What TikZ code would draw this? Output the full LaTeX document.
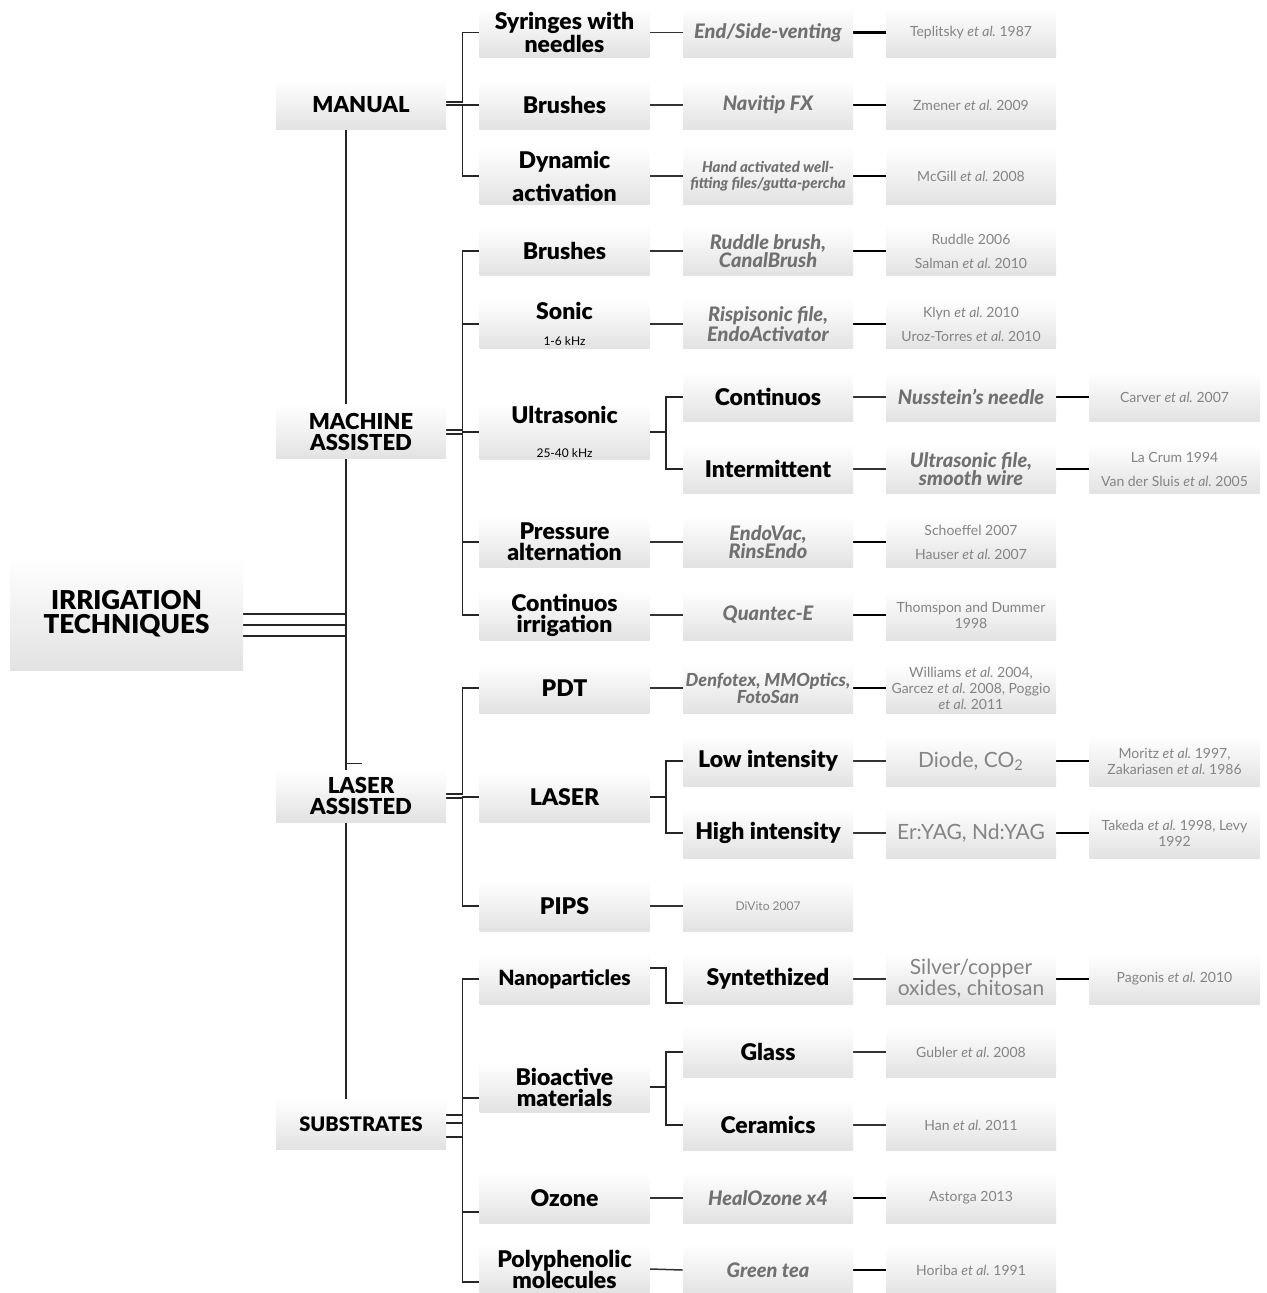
\documentclass[tikz,border=0pt]{standalone}
\usepackage{fontspec}
\setmainfont{Lato}[BoldFont={Lato Black},BoldItalicFont={Lato Black Italic}]
\usepackage{xcolor}
\definecolor{prodgray}{RGB}{112,112,112}
\definecolor{refgray}{RGB}{132,132,132}
\definecolor{boxgray}{RGB}{226,226,226}
\usepackage{tikz}
\usetikzlibrary{backgrounds}
\newcommand{\etal}{\textit{et al.}}
\tikzset{
	box/.style     = {rectangle,top color=white,middle color=white,
		bottom color=boxgray,minimum width=85pt,minimum height=25pt,
		inner sep=1pt,align=center},
	rootbox/.style = {box,minimum width=116.5pt,minimum height=56pt,
		font=\fontsize{13}{12}\selectfont\bfseries},
	catbox/.style  = {box,font=\fontsize{11}{10.5}\selectfont\bfseries},
	techbox/.style = {box,font=\fontsize{11.5}{10.5}\selectfont\bfseries},
	prodbox/.style = {box,text=prodgray,
		font=\fontsize{10}{9}\selectfont\bfseries\itshape},
	brandbox/.style= {box,text=refgray,font=\fontsize{10.5}{10.5}\selectfont},
	refbox/.style  = {box,text=refgray,font=\fontsize{7}{8}\selectfont},
	conn/.style    = {draw=black!85,line width=0.65pt},
	link/.style    = {draw=black!80,line width=0.75pt},
	reflink/.style = {draw=black,line width=1.1pt},
}
\newcommand{\khz}[1]{{\fontsize{6}{6}\selectfont\mdseries #1}}
\begin{document}
\begin{tikzpicture}[x=0.5pt,y=-0.5pt]
	\useasboundingbox (0,0) rectangle (1266,1293);
	%% Racine
	\node (irr) [rootbox] at (126.5,614) {IRRIGATION\\TECHNIQUES};
	
	%% Categories
	\node (man)  [catbox] at (361,105) {MANUAL};
	\node (mach) [catbox,minimum height=27pt] at (361,432) {MACHINE\\ASSISTED};
	\node (las)  [catbox,minimum height=26pt] at (361,796) {LASER\\ASSISTED};
	\node (sub)  [catbox,font=\fontsize{10}{9}\selectfont\bfseries] at (361,1124) {SUBSTRATES};
	
	%% Manual
	\node (syr) [techbox] at (564.5,32.5) {Syringes with\\needles};
	\node (mbr) [techbox] at (564.5,105) {Brushes};
	\node (dyn) [techbox,minimum height=29pt] at (564.5,176) {Dynamic\\[5pt]activation};
	\node (p1) [prodbox] at (768,32.5) {End/Side-venting};
	\node (p2) [prodbox] at (768,105) {Navitip FX};
	\node (p3) [prodbox,minimum height=29pt,font=\fontsize{7.5}{8}\selectfont\bfseries\itshape]
	at (768,176) {Hand activated well-\\fitting files/gutta-percha};
	\node (r1) [refbox] at (971,32.5) {Teplitsky \etal\ 1987};
	\node (r2) [refbox] at (971,105) {Zmener \etal\ 2009};
	\node (r3) [refbox,minimum height=29pt] at (971,176) {McGill \etal\ 2008};
	
	%% Machine assisted
	\node (bru) [techbox] at (564.5,251) {Brushes};
	\node (son) [techbox] at (564.5,324) {Sonic\\[2.5pt]\khz{1-6 kHz}};
	\node (ult) [techbox,minimum height=27pt] at (564.5,432) {Ultrasonic\\[6.5pt]\khz{25-40 kHz}};
	\node (pre) [techbox] at (564.5,542) {Pressure\\alternation};
	\node (cir) [techbox] at (564.5,615) {Continuos\\irrigation};
	\node (p4) [prodbox] at (768,251) {Ruddle brush,\\CanalBrush};
	\node (p5) [prodbox] at (768,324) {Rispisonic file,\\EndoActivator};
	\node (p8) [prodbox] at (768,542) {EndoVac,\\RinsEndo};
	\node (p9) [prodbox] at (768,615) {Quantec-E};
	\node (r4) [refbox] at (971,251) {Ruddle 2006\\[4pt]Salman \etal\ 2010};
	\node (r5) [refbox] at (971,324) {Klyn \etal\ 2010\\[4pt]Uroz-Torres \etal\ 2010};
	\node (r8) [refbox] at (971,542) {Schoeffel 2007\\[4pt]Hauser \etal\ 2007};
	\node (r9) [refbox] at (971,615) {Thomspon and Dummer\\1998};
	\node (cont) [techbox] at (768,397) {Continuos};
	\node (int)  [techbox] at (768,469) {Intermittent};
	\node (p6) [prodbox] at (971,397) {Nusstein's needle};
	\node (p7) [prodbox] at (971,469) {Ultrasonic file,\\smooth wire};
	\node (r6) [refbox] at (1174.5,397) {Carver \etal\ 2007};
	\node (r7) [refbox] at (1174.5,469) {La Crum 1994\\[4pt]Van der Sluis \etal\ 2005};
	
	%% Laser assisted
	\node (pdt)  [techbox] at (564.5,688) {PDT};
	\node (lsr)  [techbox] at (564.5,797) {LASER};
	\node (pips) [techbox] at (564.5,906) {PIPS};
	\node (p10) [prodbox,font=\fontsize{9}{8.5}\selectfont\bfseries\itshape]
	at (768,688) {Denfotex, MMOptics,\\FotoSan};
	\node (r10) [refbox] at (971,688) {Williams \etal\ 2004,\\Garcez \etal\ 2008, Poggio\\\etal\ 2011};
	\node (r13) [refbox,font=\fontsize{6}{7}\selectfont] at (768,906) {DiVito 2007};
	\node (low)  [techbox] at (768,761) {Low intensity};
	\node (high) [techbox] at (768,833) {High intensity};
	\node (p11) [brandbox] at (971,761) {Diode, CO\textsubscript{2}};
	\node (p12) [brandbox] at (971,833) {Er:YAG, Nd:YAG};
	\node (r11) [refbox] at (1174.5,761) {Moritz \etal\ 1997,\\Zakariasen \etal\ 1986};
	\node (r12) [refbox] at (1174.5,833) {Takeda \etal\ 1998, Levy\\1992};
	
	%% Substrates
	\node (nano) [techbox,font=\fontsize{10.5}{9.5}\selectfont\bfseries] at (564.5,979) {Nanoparticles};
	\node (bio)  [techbox] at (564.5,1087) {Bioactive\\materials};
	\node (ozo)  [techbox] at (564.5,1198) {Ozone};
	\node (pol)  [techbox] at (564.5,1269) {Polyphenolic\\molecules};
	\node (syn) [techbox] at (768,979) {Syntethized};
	\node (gla) [techbox] at (768,1052) {Glass};
	\node (cer) [techbox] at (768,1125) {Ceramics};
	\node (p14) [brandbox,font=\fontsize{10.5}{10.5}\selectfont] at (971,979) {Silver/copper\\oxides, chitosan};
	\node (p17) [prodbox] at (768,1198) {HealOzone x4};
	\node (p18) [prodbox] at (768,1270) {Green tea};
	\node (r14) [refbox] at (1174.5,979) {Pagonis \etal\ 2010};
	\node (r15) [refbox] at (971,1052) {Gubler \etal\ 2008};
	\node (r16) [refbox] at (971,1125) {Han \etal\ 2011};
	\node (r17) [refbox] at (971,1198) {Astorga 2013};
	\node (r18) [refbox] at (971,1270) {Horiba \etal\ 1991};
	
	%% Lignes
	\begin{scope}[on background layer]
		\draw[conn] (irr.east) -| ([xshift=-7.5pt]man.south);
		\draw[conn] ([yshift=-5.5pt]irr.east) -| ([xshift=-7.5pt]mach.south);
		\draw[conn] ([yshift=-5.5pt]irr.east) -| ([xshift=-7.5pt,yshift=3pt]las.north) -- ++(8pt,0);
		\draw[conn] ([yshift=-11pt]irr.east) -| ([xshift=-7.5pt]sub.north);
		
		\foreach \c/\s in {syr/1.5pt,mbr/0pt,dyn/0pt}
		\draw[conn] ([yshift=\s]man.east) -- ++(8pt,0) |- (\c.west);
		\foreach \c/\s in {bru/1pt,son/1pt,ult/-1pt,pre/-1pt,cir/-1pt}
		\draw[conn] ([yshift=\s]mach.east) -- ++(8pt,0) |- (\c.west);
		\foreach \c/\s in {pdt/1pt,lsr/-1pt,pips/-1pt}
		\draw[conn] ([yshift=\s]las.east) -- ++(8pt,0) |- (\c.west);
		\foreach \c/\s/\t in {nano/4.5pt/0pt,bio/0.5pt/-5.5pt,ozo/-6.5pt/-7pt,pol/4.5pt/-6.5pt}
		\draw[conn] ([yshift=\s]sub.east) -- ++(8pt,0) |- ([yshift=\t]\c.west);
		\foreach \c in {cont,int} \draw[conn] (ult.east) -- ++(8pt,0) |- (\c.west);
		\foreach \c in {low,high} \draw[conn] (lsr.east) -- ++(8pt,0) |- (\c.west);
		\foreach \c in {gla,cer} \draw[conn] (bio.east) -- ++(8pt,0) |- (\c.west);
		\draw[conn] ([yshift=5.5pt]nano.east) -- ++(8pt,0) |- ([yshift=-12pt]syn.west);
		
		\foreach \a/\b in {syr/p1,mbr/p2,dyn/p3,bru/p4,son/p5,pre/p8,cir/p9,
			cont/p6,int/p7,pdt/p10,pips/r13,low/p11,high/p12,syn/p14,
			gla/r15,cer/r16,ozo/p17,pol/p18}
		\draw[link] (\a.east) -- (\b.west);
		\foreach \a/\b in {p1/r1,p2/r2,p3/r3,p4/r4,p5/r5,p8/r8,p9/r9,
			p6/r6,p7/r7,p10/r10,p11/r11,p12/r12,p14/r14,p17/r17,p18/r18}
		\draw[reflink] (\a.east) -- (\b.west);
	\end{scope}
\end{tikzpicture}
\end{document}
